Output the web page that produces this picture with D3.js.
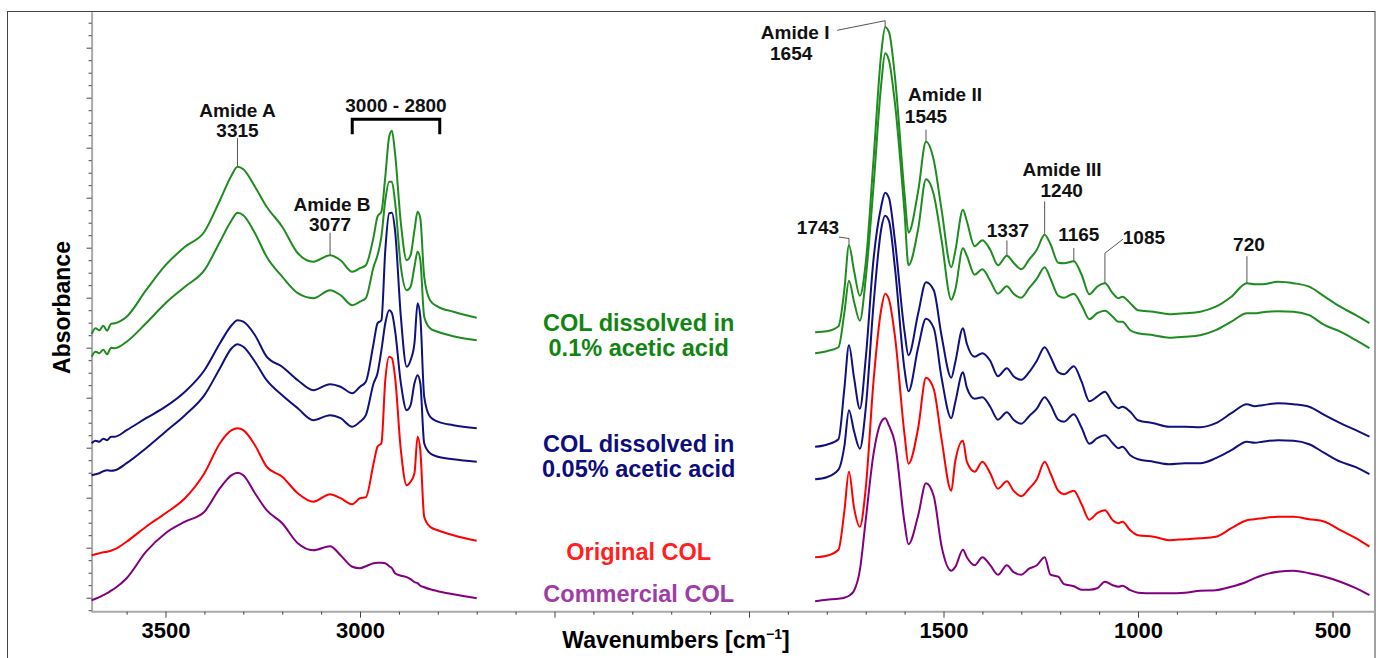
<!DOCTYPE html>
<html>
<head>
<meta charset="utf-8">
<script src="https://cdn.jsdelivr.net/npm/d3@7"></script>
<style>
  body { margin: 0; background: #fff; }
  svg { display: block; font-family: "Liberation Sans", Arial, sans-serif; font-weight: bold; }
  .spectrum { fill: none; stroke-width: 2px; stroke-linejoin: round; }
  .leader { fill: none; stroke: #555; stroke-width: 1px; }
  .peak-label { font-size: 19px; fill: #111; text-anchor: middle; }
  .legend-label { font-size: 23.5px; text-anchor: middle; }
</style>
</head>
<body>
<svg id="chart" width="1382" height="658"></svg>
<script>
// wavenumber grids (cm-1) for the two drawn regions
var leftWn = [3690, 3680, 3670, 3660, 3650, 3640, 3630, 3600, 3550, 3500, 3450, 3400, 3360, 3330, 3315, 3300,
  3270, 3240, 3200, 3160, 3120, 3077, 3050, 3020, 3000, 2985, 2965, 2955, 2945, 2935, 2925, 2918, 2910,
  2895, 2880, 2870, 2860, 2852, 2845, 2835, 2820, 2800, 2760, 2700];
var rightWn = [1830, 1800, 1770, 1755, 1743, 1730, 1715, 1700, 1680, 1660, 1650, 1640, 1625, 1600, 1590,
  1565, 1545, 1525, 1505, 1480, 1470, 1450, 1440, 1420, 1400, 1380, 1360, 1337, 1320, 1300, 1280, 1260,
  1240, 1225, 1205, 1190, 1165, 1145, 1125, 1105, 1085, 1065, 1050, 1040, 1020, 1000, 960, 920, 880, 840,
  800, 760, 720, 700, 680, 640, 600, 560, 520, 480, 440, 405];

// absorbance (stacked, arbitrary units) - COL dissolved in 0.1% acetic acid, two spectra
var green1Left = [0.477, 0.489, 0.485, 0.494, 0.484, 0.498, 0.499, 0.512, 0.565, 0.615, 0.652, 0.682, 0.745, 0.795,
  0.812, 0.807, 0.772, 0.732, 0.692, 0.639, 0.622, 0.635, 0.625, 0.602, 0.609, 0.615, 0.672, 0.712, 0.722,
  0.792, 0.872, 0.884, 0.839, 0.699, 0.625, 0.635, 0.685, 0.722, 0.709, 0.592, 0.545, 0.532, 0.522, 0.510];
var green1Right = [0.481, 0.483, 0.493, 0.565, 0.655, 0.604, 0.554, 0.619, 0.825, 1.039, 1.091, 1.081, 0.993,
  0.756, 0.680, 0.764, 0.862, 0.825, 0.726, 0.611, 0.642, 0.726, 0.703, 0.653, 0.665, 0.646, 0.615, 0.634,
  0.620, 0.607, 0.626, 0.646, 0.676, 0.657, 0.620, 0.619, 0.623, 0.596, 0.557, 0.572, 0.579, 0.559, 0.549,
  0.552, 0.539, 0.525, 0.522, 0.517, 0.519, 0.522, 0.532, 0.552, 0.579, 0.577, 0.577, 0.582, 0.579, 0.572,
  0.552, 0.532, 0.515, 0.499];
var green2Left = [0.432, 0.442, 0.439, 0.446, 0.437, 0.450, 0.449, 0.462, 0.499, 0.539, 0.572, 0.605, 0.662, 0.705,
  0.720, 0.715, 0.679, 0.632, 0.592, 0.559, 0.549, 0.565, 0.555, 0.535, 0.542, 0.549, 0.612, 0.635, 0.672,
  0.745, 0.782, 0.782, 0.742, 0.612, 0.565, 0.572, 0.612, 0.642, 0.625, 0.512, 0.489, 0.482, 0.473, 0.465];
var green2Right = [0.439, 0.443, 0.451, 0.519, 0.584, 0.542, 0.504, 0.588, 0.772, 0.978, 1.039, 1.024, 0.940,
  0.718, 0.615, 0.688, 0.787, 0.756, 0.665, 0.546, 0.565, 0.649, 0.634, 0.596, 0.607, 0.584, 0.558, 0.573,
  0.558, 0.550, 0.569, 0.588, 0.611, 0.588, 0.554, 0.550, 0.558, 0.535, 0.507, 0.519, 0.524, 0.512, 0.502,
  0.502, 0.485, 0.479, 0.475, 0.470, 0.472, 0.475, 0.485, 0.502, 0.519, 0.519, 0.521, 0.523, 0.522, 0.515,
  0.495, 0.482, 0.465, 0.449];

// COL dissolved in 0.05% acetic acid, two spectra
var navy1Left = [0.259, 0.264, 0.262, 0.268, 0.265, 0.272, 0.272, 0.285, 0.309, 0.332, 0.362, 0.405, 0.459, 0.495,
  0.505, 0.502, 0.475, 0.432, 0.412, 0.385, 0.365, 0.377, 0.372, 0.359, 0.372, 0.382, 0.459, 0.499, 0.505,
  0.645, 0.719, 0.720, 0.685, 0.512, 0.412, 0.425, 0.459, 0.539, 0.512, 0.352, 0.312, 0.302, 0.295, 0.289];
var navy1Right = [0.252, 0.256, 0.267, 0.367, 0.455, 0.390, 0.328, 0.428, 0.626, 0.733, 0.760, 0.749, 0.665,
  0.481, 0.435, 0.519, 0.581, 0.565, 0.474, 0.390, 0.420, 0.489, 0.458, 0.432, 0.439, 0.424, 0.393, 0.409,
  0.393, 0.386, 0.401, 0.424, 0.451, 0.432, 0.401, 0.397, 0.413, 0.382, 0.343, 0.352, 0.362, 0.339, 0.329,
  0.332, 0.322, 0.305, 0.299, 0.292, 0.292, 0.291, 0.299, 0.319, 0.337, 0.333, 0.335, 0.339, 0.337, 0.332,
  0.315, 0.299, 0.285, 0.272];
var navy2Left = [0.195, 0.197, 0.199, 0.203, 0.205, 0.204, 0.205, 0.219, 0.249, 0.282, 0.315, 0.355, 0.409, 0.449,
  0.457, 0.452, 0.422, 0.385, 0.355, 0.329, 0.305, 0.315, 0.309, 0.292, 0.302, 0.315, 0.379, 0.399, 0.445,
  0.499, 0.525, 0.519, 0.485, 0.379, 0.325, 0.335, 0.379, 0.395, 0.379, 0.259, 0.239, 0.232, 0.227, 0.222];
var navy2Right = [0.187, 0.191, 0.206, 0.252, 0.325, 0.283, 0.248, 0.328, 0.535, 0.688, 0.714, 0.703, 0.611,
  0.405, 0.363, 0.451, 0.508, 0.489, 0.390, 0.309, 0.340, 0.401, 0.370, 0.348, 0.351, 0.332, 0.306, 0.321,
  0.306, 0.298, 0.313, 0.328, 0.351, 0.336, 0.306, 0.302, 0.317, 0.290, 0.258, 0.269, 0.275, 0.259, 0.249,
  0.252, 0.235, 0.227, 0.222, 0.217, 0.219, 0.219, 0.229, 0.245, 0.262, 0.260, 0.262, 0.265, 0.264, 0.257,
  0.239, 0.222, 0.211, 0.197];

// Original COL
var redLeft = [0.035, 0.037, 0.039, 0.041, 0.042, 0.044, 0.047, 0.062, 0.092, 0.119, 0.149, 0.199, 0.259, 0.285,
  0.289, 0.285, 0.255, 0.212, 0.192, 0.159, 0.142, 0.157, 0.149, 0.137, 0.149, 0.151, 0.219, 0.252, 0.259,
  0.385, 0.432, 0.429, 0.392, 0.245, 0.175, 0.182, 0.199, 0.272, 0.245, 0.112, 0.092, 0.085, 0.075, 0.064];
var redRight = [0.031, 0.034, 0.046, 0.122, 0.202, 0.130, 0.092, 0.168, 0.382, 0.527, 0.558, 0.546, 0.474,
  0.275, 0.218, 0.290, 0.390, 0.367, 0.267, 0.164, 0.222, 0.264, 0.222, 0.202, 0.222, 0.199, 0.168, 0.183,
  0.164, 0.153, 0.168, 0.187, 0.222, 0.199, 0.164, 0.157, 0.164, 0.137, 0.106, 0.119, 0.125, 0.105, 0.099,
  0.102, 0.085, 0.075, 0.072, 0.065, 0.067, 0.069, 0.072, 0.089, 0.105, 0.107, 0.109, 0.112, 0.112, 0.107,
  0.102, 0.085, 0.069, 0.052];

// Commercial COL
var purpleLeft = [-0.055, -0.052, -0.049, -0.045, -0.041, -0.036, -0.031, -0.011, 0.042, 0.079, 0.102, 0.122,
  0.169, 0.195, 0.200, 0.195, 0.159, 0.125, 0.099, 0.059, 0.045, 0.053, 0.035, 0.012, 0.009, 0.013, 0.019,
  0.020, 0.020, 0.019, 0.013, 0.009, -0.001, -0.006, -0.009, -0.013, -0.019, -0.021, -0.026, -0.029, -0.033,
  -0.037, -0.043, -0.051];
var purpleRight = [-0.057, -0.054, -0.052, -0.050, -0.046, -0.036, 0.005, 0.105, 0.237, 0.302, 0.309, 0.294,
  0.260, 0.099, 0.057, 0.115, 0.179, 0.153, 0.053, 0.004, 0.011, 0.046, 0.031, 0.015, 0.031, 0.015, -0.004,
  0.015, 0.001, -0.004, 0.008, 0.015, 0.031, -0.004, -0.008, -0.023, -0.027, -0.034, -0.034, -0.031, -0.018,
  -0.025, -0.028, -0.026, -0.035, -0.040, -0.041, -0.041, -0.040, -0.036, -0.035, -0.028, -0.018, -0.011,
  -0.005, 0.002, 0.004, -0.001, -0.008, -0.018, -0.031, -0.045];

var xTickLabels = [3500, 3000, 1500, 1000, 500];

var svg = d3.select("#chart");

var x = d3.scaleLinear()
    .domain([3690, 400])
    .range([91.6, 1371.4]);

var y = d3.scaleLinear()
    .domain([-0.078, 1.122])
    .range([611.7, 11.7]);

var line = d3.line()
    .x(function(d) { return x(d[0]); })
    .y(function(d) { return y(d[1]); })
    .curve(d3.curveMonotoneX);

function pairs(wn, vals) {
  return wn.map(function(w, i) { return [w, vals[i]]; });
}

var series = [
  {color: "#1e8c1e", left: green1Left, right: green1Right},
  {color: "#1e8c1e", left: green2Left, right: green2Right},
  {color: "#10107f", left: navy1Left, right: navy1Right},
  {color: "#10107f", left: navy2Left, right: navy2Right},
  {color: "#ff0000", left: redLeft, right: redRight},
  {color: "#800080", left: purpleLeft, right: purpleRight}
];

// outer frame
svg.append("rect")
    .attr("x", 7.5).attr("y", 11.5)
    .attr("width", 1367.5).attr("height", 660)
    .attr("fill", "#fff")
    .attr("stroke", "#444")
    .attr("stroke-width", 1);

// y axis: unlabeled ticks, major every 4th
var yTicks = d3.range(-3, 45).map(function(i) { return i * 0.025; });
var yAxis = svg.append("g")
    .attr("transform", "translate(" + x.range()[0] + ",0)")
    .call(d3.axisLeft(y).tickValues(yTicks).tickFormat("").tickSizeOuter(0));
yAxis.select(".domain").attr("stroke", "#aaa").attr("stroke-width", 2);
yAxis.selectAll(".tick line")
    .attr("stroke", "#444")
    .attr("x2", function(d, i) { return (i + 3) % 4 === 0 ? -5 : -3; });

// x axis: ticks every 100, labels at a few
var xTicks = d3.range(3600, 450, -100);
var xAxis = svg.append("g")
    .attr("transform", "translate(0," + y.range()[0] + ")")
    .call(d3.axisBottom(x).tickValues(xTicks).tickSizeOuter(0)
      .tickFormat(function(d) { return xTickLabels.indexOf(d) >= 0 ? d : ""; }));
xAxis.select(".domain").attr("stroke", "#aaa").attr("stroke-width", 2)
    .attr("d", "M" + x.range()[0] + ",0H1375");
xAxis.selectAll(".tick line")
    .attr("stroke", "#444")
    .attr("y2", function(d) { return d % 500 === 0 ? 6 : 3; });
xAxis.selectAll(".tick text")
    .attr("y", 26).attr("dy", 0)
    .attr("fill", "#000")
    .style("font-size", "22px")
    .style("font-family", "'Liberation Sans', Arial, sans-serif")
    .style("font-weight", "bold");

// spectra
var plot = svg.append("g");
series.forEach(function(s) {
  [pairs(leftWn, s.left), pairs(rightWn, s.right)].forEach(function(seg) {
    plot.append("path")
        .datum(seg)
        .attr("class", "spectrum")
        .attr("stroke", s.color)
        .attr("d", line);
  });
});

// peak annotations, anchored on the top green spectrum
function topValue(wn) {
  var i = leftWn.indexOf(wn);
  if (i >= 0) return green1Left[i];
  return green1Right[rightWn.indexOf(wn)];
}

var notes = [
  {wn: 3315, texts: [["Amide A", 0, -49.4], ["3315", 0, -30]], leader: [[0, 0], [0, -28.5]]},
  {wn: 3077, texts: [["Amide B", 2, -44.5], ["3077", 0, -24.2]], leader: [[0, 0], [0, -22.5]]},
  {wn: 1650, texts: [["Amide I", -90, 11.5], ["1654", -94, 32.8]], leader: [[0, 0], [0, -6.5], [-48, 3.1]]},
  {wn: 1545, texts: [["Amide II", 19, -40.7], ["1545", 0, -18.7]], leader: [[0, 0], [0, -12]]},
  {wn: 1240, texts: [["Amide III", 17.4, -59.1], ["1240", 17, -38.2]], leader: [[0, -1], [0, -33.3]]},
  {wn: 1337, texts: [["1337", 1, -19.1]], leader: [[0, 0], [0, -15.3]]},
  {wn: 1165, texts: [["1165", 5, -20.2]], leader: [[0, 0], [0, -13.2]]},
  {wn: 1743, texts: [["1743", -31, -11.7]], leader: [[0, 0], [0, -6.7], [-10, -8.2]]},
  {wn: 1085, texts: [["1085", 39, -39.2]], leader: [[0, 0], [0, -30], [18, -44]]},
  {wn: 720, texts: [["720", 2, -32.5]], leader: [[0, 0], [0, -27]]}
];

var noteG = svg.append("g");
notes.forEach(function(n) {
  var ax = x(n.wn), ay = y(topValue(n.wn));
  noteG.append("path")
      .attr("class", "leader")
      .attr("d", d3.line()(n.leader.map(function(p) { return [ax + p[0], ay + p[1]]; })));
  n.texts.forEach(function(t) {
    noteG.append("text")
        .attr("class", "peak-label")
        .attr("x", ax + t[1])
        .attr("y", ay + t[2])
        .text(t[0]);
  });
});

// CH stretching bracket
var bracket = {from: 3020, to: 2795, level: 0.907};
svg.append("path")
    .attr("fill", "none")
    .attr("stroke", "#000")
    .attr("stroke-width", 3)
    .attr("d", "M" + x(bracket.from) + "," + (y(bracket.level) + 15) +
               "V" + y(bracket.level) + "H" + x(bracket.to) + "V" + (y(bracket.level) + 15));
svg.append("text")
    .attr("class", "peak-label")
    .attr("x", (x(bracket.from) + x(bracket.to)) / 2)
    .attr("y", y(bracket.level) - 7)
    .text("3000 - 2800");

// sample labels
var legend = [
  {lines: ["COL dissolved in", "0.1% acetic acid"], color: "#108510", top: 331},
  {lines: ["COL dissolved in", "0.05% acetic acid"], color: "#0d0d7d", top: 452},
  {lines: ["Original COL"], color: "#ff1f1f", top: 560},
  {lines: ["Commercial COL"], color: "#a03ca8", top: 601.7}
];
legend.forEach(function(l) {
  l.lines.forEach(function(t, i) {
    svg.append("text")
        .attr("class", "legend-label")
        .attr("x", 638.7)
        .attr("y", l.top + i * 25)
        .attr("fill", l.color)
        .text(t);
  });
});

// axis titles
var xTitle = svg.append("text")
    .attr("x", 676).attr("y", 648)
    .attr("text-anchor", "middle")
    .style("font-size", "23px");
xTitle.append("tspan").text("Wavenumbers [cm");
xTitle.append("tspan").attr("dy", -9).style("font-size", "14px").text("\u22121");
xTitle.append("tspan").attr("dy", 9).text("]");

svg.append("text")
    .attr("transform", "translate(70,307.5) rotate(-90)")
    .attr("text-anchor", "middle")
    .style("font-size", "23px")
    .text("Absorbance");
</script>
</body>
</html>
